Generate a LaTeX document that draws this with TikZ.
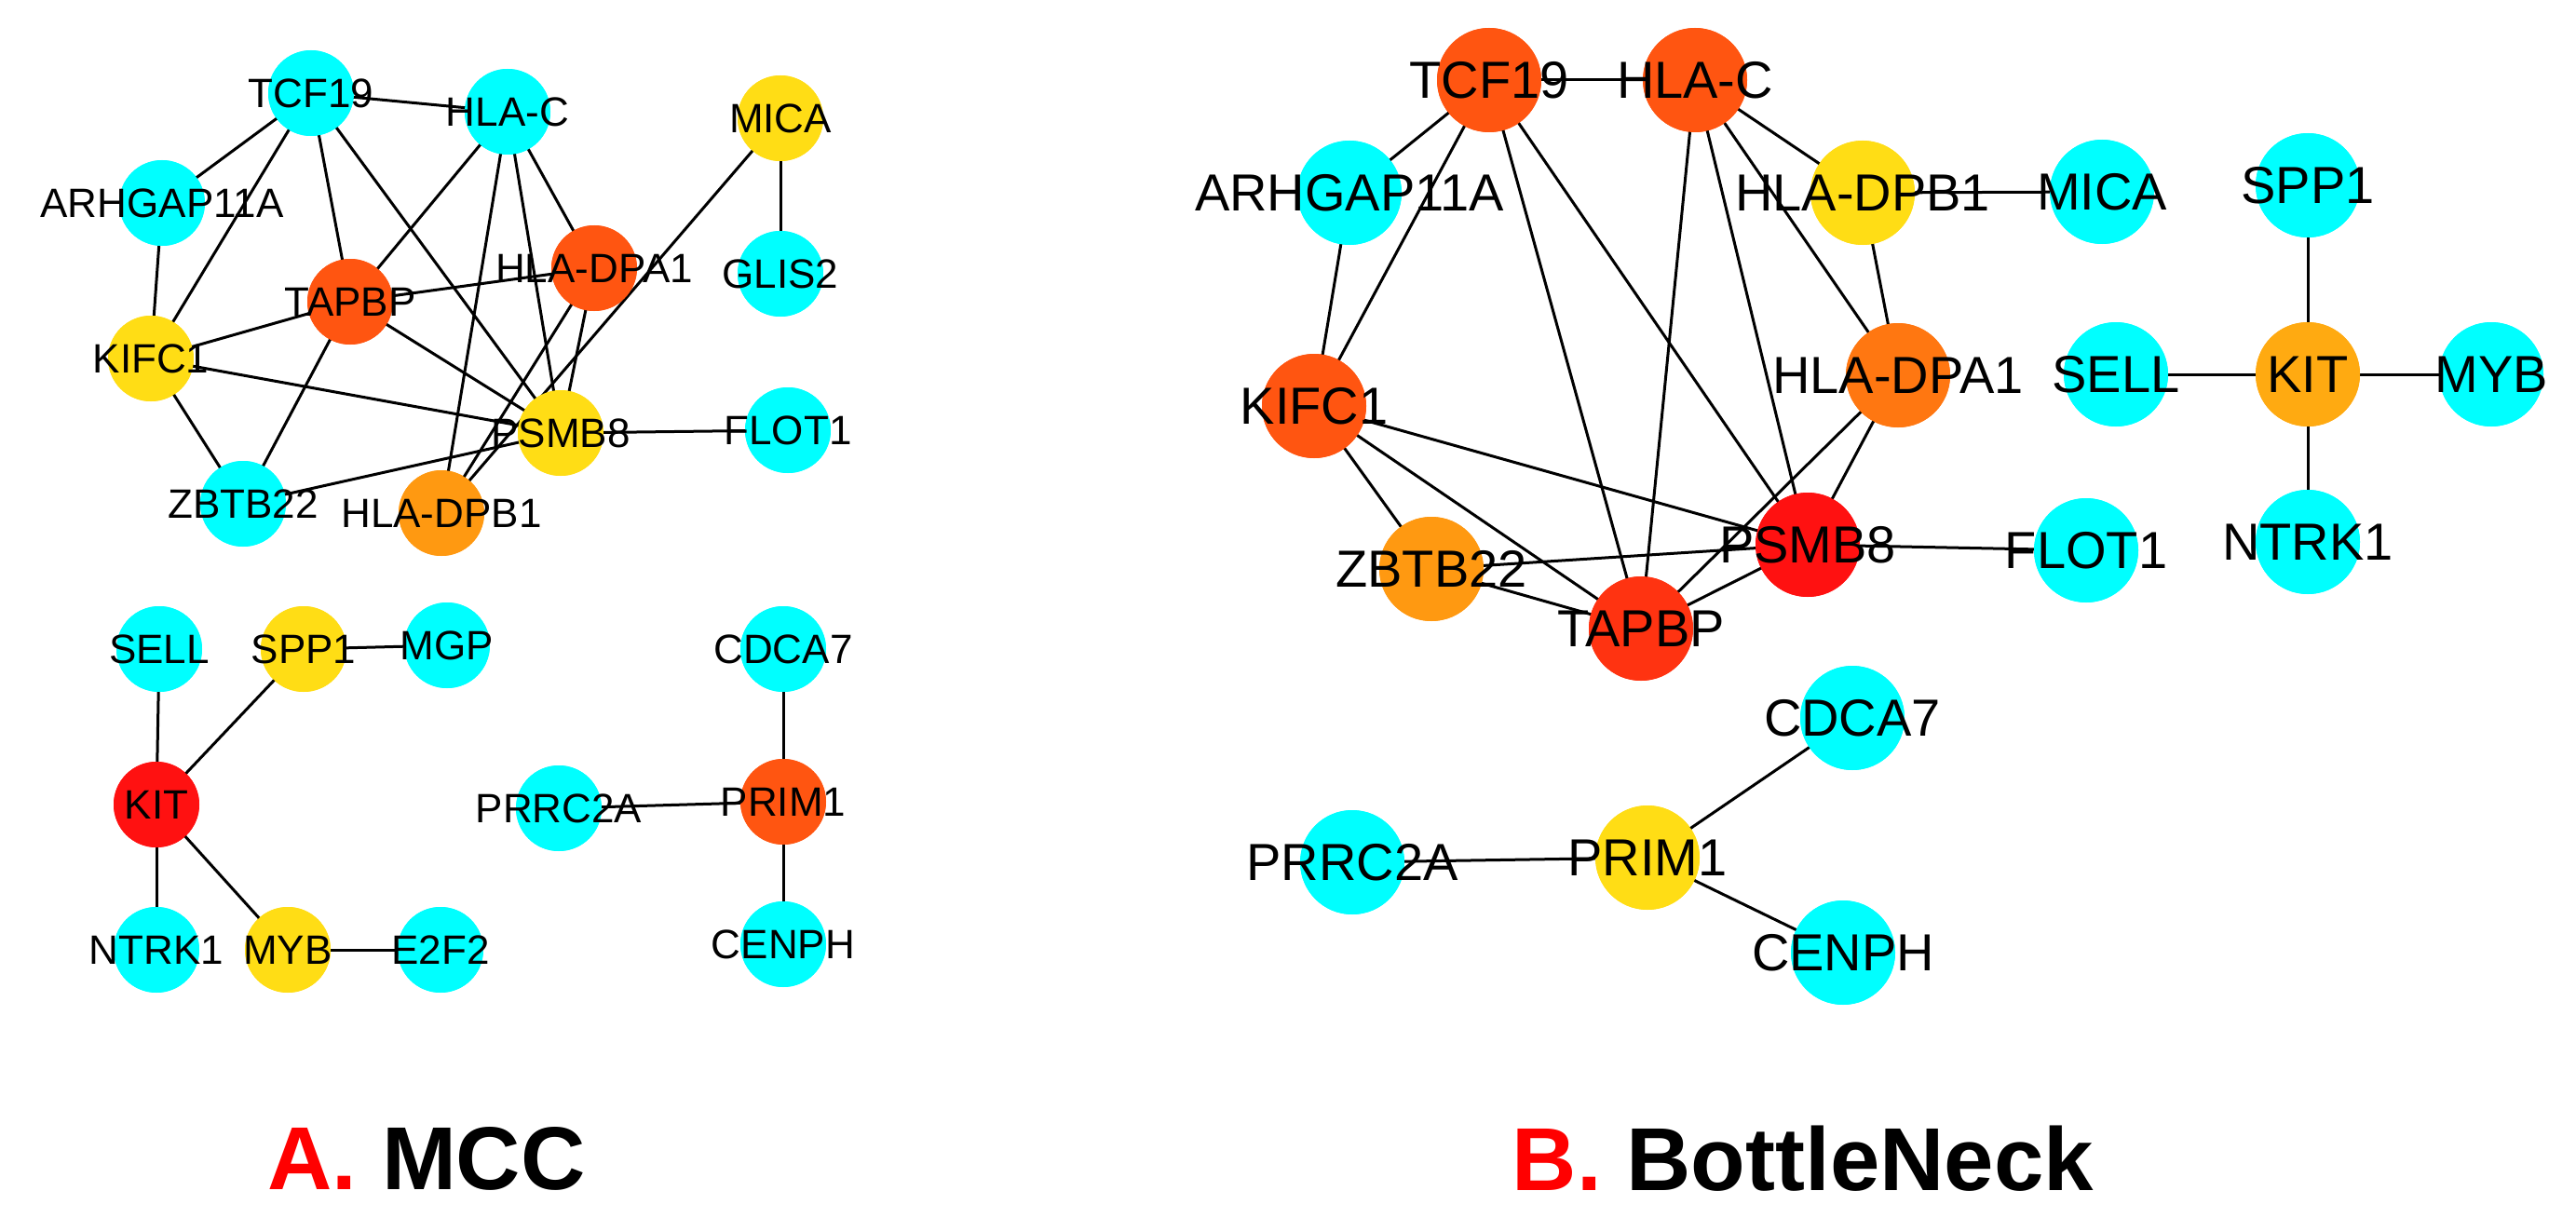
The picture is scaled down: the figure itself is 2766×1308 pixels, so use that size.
\documentclass[tikz,border=0pt]{standalone}
\usepackage{fontspec}
\setmainfont{Liberation Sans}
\definecolor{cy}{HTML}{00FFFF}
\definecolor{ye}{HTML}{FFDD15}
\definecolor{orr}{HTML}{FF5511}
\definecolor{rd}{HTML}{FF1111}
\definecolor{og}{HTML}{FF9911}
\definecolor{og2}{HTML}{FF7711}
\definecolor{kitc}{HTML}{FFAA11}
\definecolor{tap}{HTML}{FF3311}
\begin{document}
\begin{tikzpicture}[x=1pt,y=-1pt,
  na/.style={circle,minimum size=92pt,inner sep=0pt,fill=#1},
  nb/.style={circle,minimum size=112pt,inner sep=0pt,fill=#1},
  la/.style={font=\fontsize{44}{44}\selectfont},
  lb/.style={font=\fontsize{56}{56}\selectfont},
  ed/.style={line width=3pt}]
\useasboundingbox[fill=white] (0,0) rectangle (2766,1308);
% ---- A nodes
\foreach \n/\x/\y/\c in {aTCF/334/100/cy, aHLAC/545/120/cy, aMICA/838/127/ye, aARH/174/218/cy, aTAP/376/324/orr, aDPA/638/288/orr, aGLIS/838/294/cy, aKIF/162/385/ye, aPSM/602/465/ye, aFLOT/846/462/cy, aZBT/261/541/cy, aDPB/474/551/og,
 aSELL/171/697/cy, aSPP/326/697/ye, aMGP/480/693/cy, aKIT/168/864/rd, aNTR/168/1020/cy, aMYB/309/1020/ye, aE2F/473/1020/cy, aCDC/841/697/cy, aPRR/600/868/cy, aPRI/841/861/orr, aCEN/841/1014/cy}
  \node[na=\c] (\n) at (\x,\y) {};
% ---- B nodes
\foreach \n/\x/\y/\c in {bTCF/1599/86/orr, bHLAC/1820/86/orr, bARH/1449/207/cy, bDPB/2000/207/ye, bKIF/1411/436/orr, bDPA/2038/403/og2, bZBT/1537/611/og, bPSM/1941/585/rd, bTAP/1762/675/tap, bMICA/2257/206/cy, bSPP/2478/199/cy, bSELL/2272/402/cy, bKIT/2478/402/kitc, bMYB/2675/402/cy, bNTR/2478/582/cy, bFLOT/2240/591/cy, bCDC/1989/771/cy, bPRR/1452/926/cy, bPRI/1769/921/ye, bCEN/1979/1023/cy}
  \node[nb=\c] (\n) at (\x,\y) {};
% ---- A edges
\foreach \a/\b in {aTCF/aHLAC, aTCF/aARH, aTCF/aKIF, aTCF/aTAP, aTCF/aPSM, aHLAC/aTAP, aHLAC/aDPB, aHLAC/aPSM, aHLAC/aDPA, aMICA/aGLIS, aMICA/aDPB, aARH/aKIF, aTAP/aDPA, aTAP/aKIF, aTAP/aPSM, aTAP/aZBT, aDPA/aPSM, aDPA/aDPB, aKIF/aPSM, aKIF/aZBT, aPSM/aFLOT, aPSM/aZBT,
 aSELL/aKIT, aKIT/aSPP, aSPP/aMGP, aKIT/aNTR, aKIT/aMYB, aMYB/aE2F, aCDC/aPRI, aPRR/aPRI, aPRI/aCEN}
  \draw[ed] (\a.center) -- (\b.center);
% ---- B edges
\foreach \a/\b in {bTCF/bHLAC, bTCF/bARH, bTCF/bKIF, bTCF/bTAP, bTCF/bPSM, bHLAC/bDPB, bHLAC/bDPA, bHLAC/bPSM, bHLAC/bTAP, bDPB/bMICA, bDPB/bDPA, bARH/bKIF, bKIF/bPSM, bKIF/bTAP, bKIF/bZBT, bDPA/bTAP, bDPA/bPSM, bZBT/bPSM, bZBT/bTAP, bPSM/bTAP, bPSM/bFLOT, bSPP/bKIT, bSELL/bKIT, bKIT/bMYB, bKIT/bNTR, bCDC/bPRI, bPRR/bPRI, bPRI/bCEN}
  \draw[ed] (\a.center) -- (\b.center);
% redraw nodes over edges
\foreach \n/\c in {aTCF/cy, aHLAC/cy, aMICA/ye, aARH/cy, aTAP/orr, aDPA/orr, aGLIS/cy, aKIF/ye, aPSM/ye, aFLOT/cy, aZBT/cy, aDPB/og, aSELL/cy, aSPP/ye, aMGP/cy, aKIT/rd, aNTR/cy, aMYB/ye, aE2F/cy, aCDC/cy, aPRR/cy, aPRI/orr, aCEN/cy}
  \fill[\c] (\n) circle (46pt);
\foreach \n/\c in {bTCF/orr, bHLAC/orr, bARH/cy, bDPB/ye, bKIF/orr, bDPA/og2, bZBT/og, bPSM/rd, bTAP/tap, bMICA/cy, bSPP/cy, bSELL/cy, bKIT/kitc, bMYB/cy, bNTR/cy, bFLOT/cy, bCDC/cy, bPRR/cy, bPRI/ye, bCEN/cy}
  \fill[\c] (\n) circle (56pt);
% labels A
\foreach \n/\t in {aTCF/TCF19, aHLAC/HLA-C, aMICA/MICA, aARH/ARHGAP11A, aTAP/TAPBP, aDPA/HLA-DPA1, aGLIS/GLIS2, aKIF/KIFC1, aPSM/PSMB8, aFLOT/FLOT1, aZBT/ZBTB22, aDPB/HLA-DPB1, aSELL/SELL, aSPP/SPP1, aMGP/MGP, aKIT/KIT, aNTR/NTRK1, aMYB/MYB, aE2F/E2F2, aCDC/CDCA7, aPRR/PRRC2A, aPRI/PRIM1, aCEN/CENPH}
  \node[la] at (\n) {\t};
\foreach \n/\t in {bTCF/TCF19, bHLAC/HLA-C, bARH/ARHGAP11A, bDPB/HLA-DPB1, bKIF/KIFC1, bDPA/HLA-DPA1, bZBT/ZBTB22, bPSM/PSMB8, bTAP/TAPBP, bMICA/MICA, bSPP/SPP1, bSELL/SELL, bKIT/KIT, bMYB/MYB, bNTR/NTRK1, bFLOT/FLOT1, bCDC/CDCA7, bPRR/PRRC2A, bPRI/PRIM1, bCEN/CENPH}
  \node[lb] at (\n) {\t};
% titles
\node[font=\fontsize{96}{96}\selectfont\bfseries] (tA) at (458,1244) {\textcolor{red}{A.} MCC};
\node[font=\fontsize{96}{96}\selectfont\bfseries] (tB) at (1936,1244) {\textcolor{red}{B.} BottleNeck};
\end{tikzpicture}
\end{document}
